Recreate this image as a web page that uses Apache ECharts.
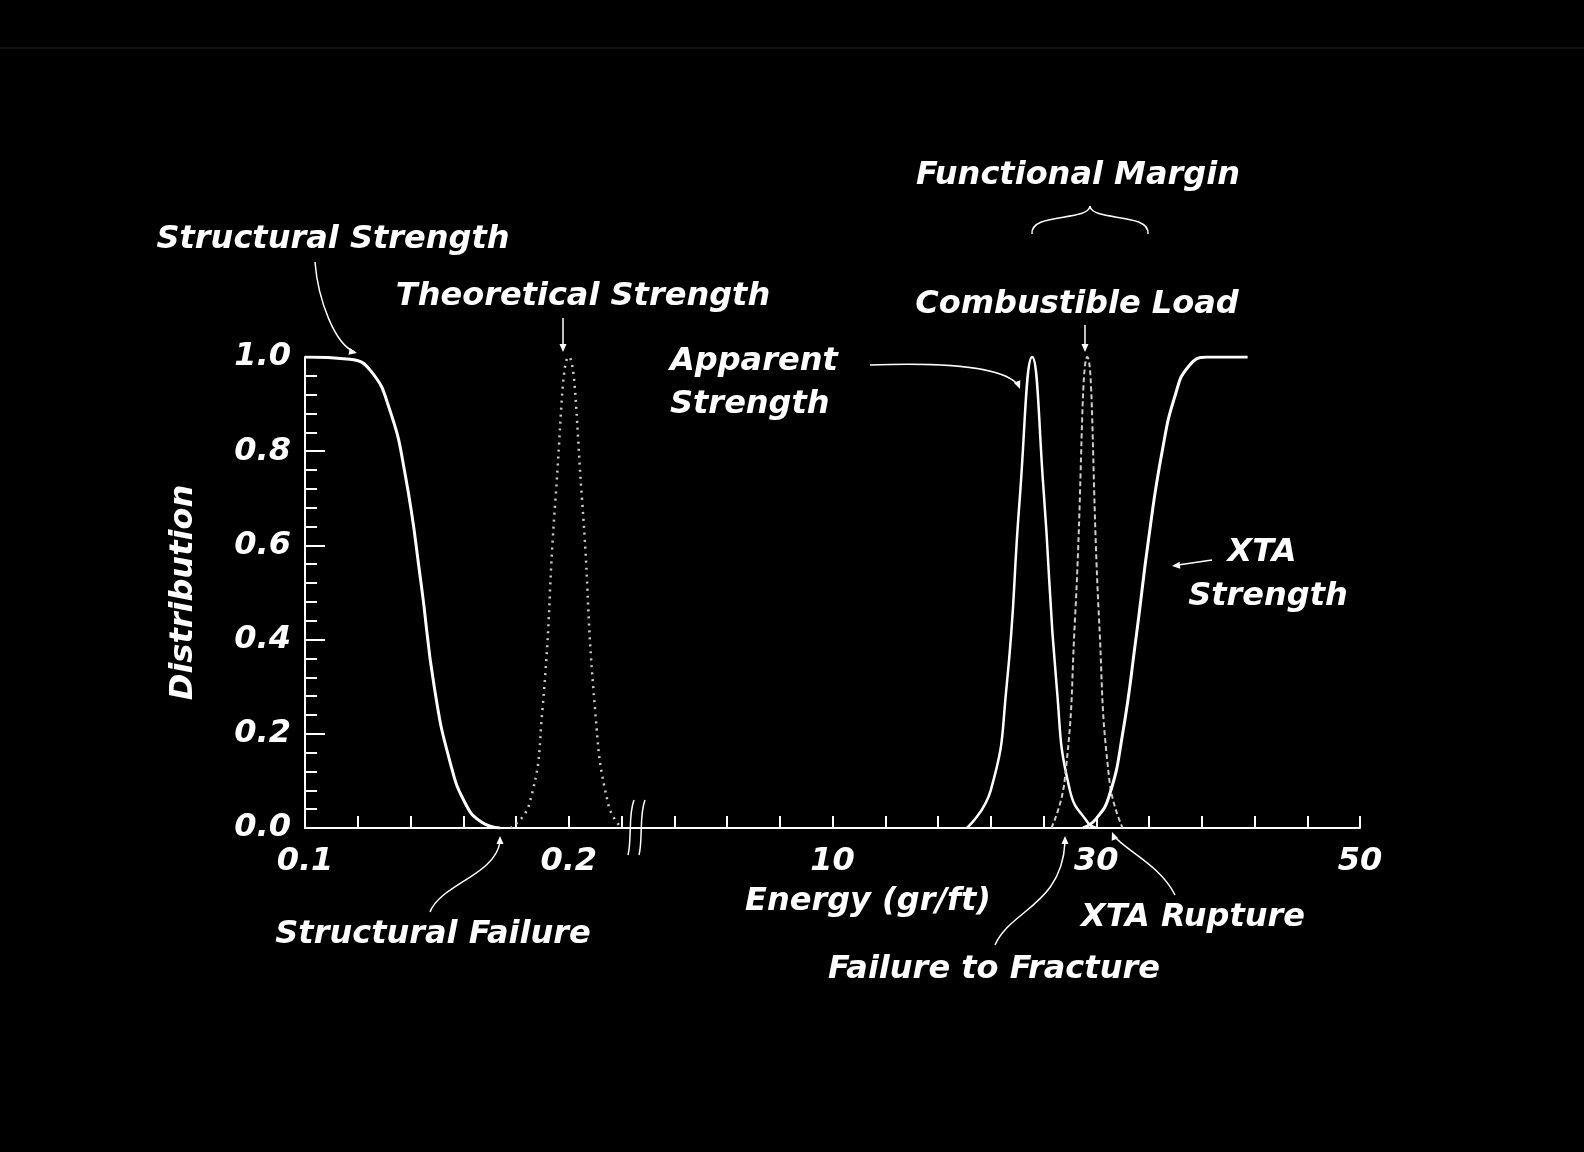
<!DOCTYPE html>
<html>
<head>
<meta charset="utf-8">
<script src="https://cdn.jsdelivr.net/npm/echarts@6/dist/echarts.min.js"></script>
<style>
  html, body { margin: 0; background: #000; }
  #chart { width: 1584px; height: 1152px; }
</style>
</head>
<body>
<div id="chart"></div>
<script>
// x is the position on the broken axis: 0 -> 0.1, 1 -> 0.2, 2 -> 10, 3 -> 30, 4 -> 50
var tickLabels = ['0.1', '0.2', '10', '30', '50'];
var structuralStrength = [[0, 1.0], [0.17, 0.995], [0.25, 0.97], [0.32, 0.89], [0.38, 0.75], [0.44, 0.52], [0.49, 0.3], [0.55, 0.14], [0.61, 0.05], [0.67, 0.012], [0.74, 0]];
var theoreticalStrength = [[0.78, 0], [0.85, 0.05], [0.9, 0.25], [0.95, 0.7], [1.0, 1.0], [1.05, 0.7], [1.1, 0.25], [1.15, 0.05], [1.2, 0]];
var apparentStrength = [[2.51, 0], [2.6, 0.08], [2.66, 0.3], [2.71, 0.7], [2.757, 1.0], [2.8, 0.72], [2.85, 0.3], [2.9, 0.08], [2.97, 0.01], [3.0, 0]];
var combustibleLoad = [[2.83, 0], [2.88, 0.1], [2.92, 0.45], [2.966, 1.0], [3.01, 0.45], [3.05, 0.1], [3.1, 0]];
var xtaStrength = [[2.95, 0], [3.0, 0.02], [3.05, 0.07], [3.1, 0.2], [3.15, 0.4], [3.2, 0.62], [3.25, 0.8], [3.3, 0.92], [3.35, 0.98], [3.42, 1.0], [3.574, 1.0]];

var FONT = 'DejaVu Sans';
function label(text, x, y, align) {
  return { type: 'text', x: x, y: y, style: { text: text, fill: '#fff', font: 'italic bold 32px "' + FONT + '"', align: align || 'center', verticalAlign: 'middle' } };
}
function curve(x1, y1, cx1, cy1, cx2, cy2, x2, y2) {
  return { type: 'bezierCurve', shape: { x1: x1, y1: y1, cpx1: cx1, cpy1: cy1, cpx2: cx2, cpy2: cy2, x2: x2, y2: y2 }, style: { stroke: '#fff', lineWidth: 1.5, fill: null } };
}
function head(x, y, dx, dy) {
  // small arrow head pointing in direction (dx, dy)
  var l = Math.sqrt(dx * dx + dy * dy); dx /= l; dy /= l;
  return { type: 'polygon', shape: { points: [[x, y], [x - dx * 8 - dy * 3.5, y - dy * 8 + dx * 3.5], [x - dx * 8 + dy * 3.5, y - dy * 8 - dx * 3.5]] }, style: { fill: '#fff' } };
}
function line(x1, y1, x2, y2, w, c) {
  return { type: 'line', shape: { x1: x1, y1: y1, x2: x2, y2: y2 }, style: { stroke: c || '#fff', lineWidth: w || 1.5 } };
}

var chart = echarts.init(document.getElementById('chart'));
var lineStyle = { color: '#fff', width: 3 };
var axisFont = { color: '#fff', fontFamily: FONT, fontStyle: 'italic', fontWeight: 'bold', fontSize: 32 };
chart.setOption({
  backgroundColor: '#000',
  animation: false,
  grid: { left: 305, right: 224, top: 357, bottom: 324 },
  xAxis: {
    type: 'value', min: 0, max: 4, interval: 1,
    axisLine: { lineStyle: { color: '#fff', width: 2 } },
    axisTick: { inside: true, length: 12, lineStyle: { color: '#fff', width: 2 } },
    minorTick: { show: true, splitNumber: 5, length: 12, lineStyle: { color: '#fff', width: 2 } },
    splitLine: { show: false },
    axisLabel: Object.assign({ margin: 18, formatter: function (v) { return tickLabels[Math.round(v)]; } }, axisFont)
  },
  yAxis: {
    type: 'value', min: 0, max: 1, interval: 0.2,
    name: 'Distribution', nameLocation: 'middle', nameGap: 105,
    nameTextStyle: axisFont,
    axisLine: { show: true, lineStyle: { color: '#fff', width: 2 } },
    axisTick: { show: true, inside: true, length: 20, lineStyle: { color: '#fff', width: 2 } },
    minorTick: { show: true, splitNumber: 5, length: 12, lineStyle: { color: '#fff', width: 2 } },
    splitLine: { show: false },
    axisLabel: Object.assign({ margin: 14, formatter: function (v) { return v.toFixed(1); } }, axisFont)
  },
  series: [
    { type: 'line', data: structuralStrength, smooth: true, symbol: 'none', lineStyle: lineStyle },
    { type: 'line', data: theoreticalStrength, smooth: true, symbol: 'none', lineStyle: { color: '#ccc', width: 2.5, type: [2, 5] } },
    { type: 'line', data: apparentStrength, smooth: true, symbol: 'none', lineStyle: { color: '#fff', width: 2.5 } },
    { type: 'line', data: combustibleLoad, smooth: true, symbol: 'none', lineStyle: { color: '#ccc', width: 2, type: [5, 3] } },
    { type: 'line', data: xtaStrength, smooth: true, symbol: 'none', lineStyle: lineStyle }
  ],
  graphic: [
    line(0, 48, 1584, 48, 1, '#222'),
    // axis break
    { type: 'rect', shape: { x: 624, y: 818, width: 20, height: 20 }, style: { fill: '#000' } },
    curve(628, 855, 632, 840, 628, 815, 634, 800),
    curve(639, 855, 643, 840, 639, 815, 645, 800),
    // brace
    curve(1032, 234, 1030, 212, 1088, 222, 1090, 206),
    curve(1148, 234, 1150, 212, 1092, 222, 1090, 206),
    label('Functional Margin', 1078, 176),
    label('Structural Strength', 333, 240),
    curve(315, 262, 318, 300, 335, 345, 355, 352), head(357, 353, 1, 0.2),
    label('Theoretical Strength', 583, 297),
    line(563, 318, 563, 348), head(563, 352, 0, 1),
    label('Combustible Load', 1077, 305),
    line(1085, 325, 1085, 348), head(1085, 352, 0, 1),
    label('Apparent', 670, 362, 'left'),
    label('Strength', 670, 405, 'left'),
    curve(870, 365, 950, 362, 1005, 368, 1018, 385), head(1020, 389, 0.4, 1),
    label('XTA', 1262, 553),
    label('Strength', 1268, 597),
    line(1212, 560, 1178, 565), head(1172, 566, -1, 0.1),
    label('Structural Failure', 433, 935),
    curve(430, 912, 440, 885, 495, 875, 500, 842), head(500, 836, 0, -1),
    label('Energy (gr/ft)', 868, 902),
    label('XTA Rupture', 1193, 918),
    curve(1175, 895, 1160, 865, 1125, 850, 1114, 836), head(1112, 832, -0.4, -1),
    label('Failure to Fracture', 994, 970),
    curve(995, 945, 1010, 910, 1062, 905, 1065, 842), head(1065, 836, 0, -1)
  ]
});
</script>
</body>
</html>
